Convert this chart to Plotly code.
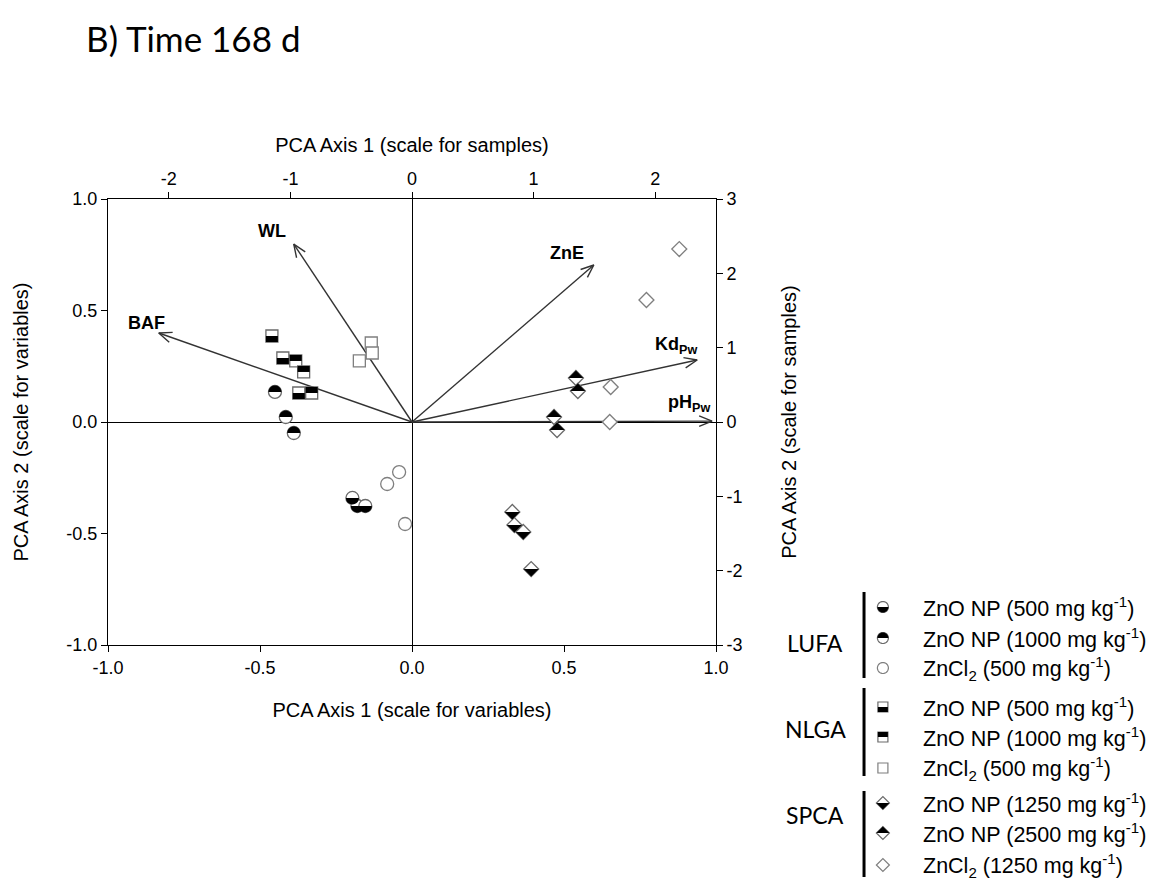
import math
import plotly.graph_objects as go

# ---------------- figure geometry ----------------
W, H = 1155, 879
OFF = 8  # page body margin in the browser
ML, MT = 104 - OFF, 199 - OFF
MR, MB = W - (716 - OFF), H - (645 - OFF)
PW = W - ML - MR
PH = H - MT - MB

# ---------------- data ----------------
# variable loadings (scale for variables)
var_names = ["WL", "ZnE", "BAF", "Kd<sub>Pw</sub>", "pH<sub>Pw</sub>"]
var_x = [-0.389, 0.598, -0.833, 0.938, 0.987]
var_y = [0.798, 0.704, 0.399, 0.278, 0.004]

# sample scores (scale for samples)
lufa_np500_x = [-0.490, -0.449, -0.384]
lufa_np500_y = [-1.022, -1.130, -1.130]
lufa_np1000_x = [-1.127, -1.038, -0.972]
lufa_np1000_y = [0.404, 0.067, -0.148]
lufa_zncl2_x = [-0.106, -0.204, -0.057]
lufa_zncl2_y = [-0.673, -0.834, -1.372]

nlga_np500_x = [-1.152, -1.062, -0.931]
nlga_np500_y = [1.157, 0.861, 0.390]
nlga_np1000_x = [-0.956, -0.891, -0.825]
nlga_np1000_y = [0.821, 0.673, 0.390]
nlga_zncl2_x = [-0.335, -0.327, -0.433]
nlga_zncl2_y = [1.063, 0.928, 0.821]

spca_np1250_x = [0.825, 0.842, 0.915, 0.980]
spca_np1250_y = [-1.211, -1.386, -1.480, -1.978]
spca_np2500_x = [1.348, 1.364, 1.168, 1.193]
spca_np2500_y = [0.592, 0.417, 0.067, -0.108]
spca_zncl2_x = [2.198, 1.928, 1.634, 1.626]
spca_zncl2_y = [2.327, 1.641, 0.471, 0.000]

soils = ["LUFA", "NLGA", "SPCA"]
treatment_labels = [
    ["ZnO NP (500 mg kg<sup>-1</sup>)", "ZnO NP (1000 mg kg<sup>-1</sup>)", "ZnCl<sub>2</sub> (500 mg kg<sup>-1</sup>)"],
    ["ZnO NP (500 mg kg<sup>-1</sup>)", "ZnO NP (1000 mg kg<sup>-1</sup>)", "ZnCl<sub>2</sub> (500 mg kg<sup>-1</sup>)"],
    ["ZnO NP (1250 mg kg<sup>-1</sup>)", "ZnO NP (2500 mg kg<sup>-1</sup>)", "ZnCl<sub>2</sub> (1250 mg kg<sup>-1</sup>)"],
]

# tick labels
xv_ticks = [-1.0, -0.5, 0.0, 0.5, 1.0]
xv_ticktext = ["-1.0", "-0.5", "0.0", "0.5", "1.0"]
yv_ticks = [-1.0, -0.5, 0.0, 0.5, 1.0]
yv_ticktext = ["-1.0", "-0.5", "0.0", "0.5", "1.0"]
xs_ticks = [-2, -1, 0, 1, 2]
xs_ticktext = ["-2", "-1", "0", "1", "2"]
ys_ticks = [-3, -2, -1, 0, 1, 2, 3]
ys_ticktext = ["-3", "-2", "-1", "0", "1", "2", "3"]

# ---------------- styles ----------------
AXFONT = "Arial, Liberation Sans, sans-serif"
ARROW_COLOR = "#333333"
OPEN_COLOR = "#7f7f7f"

series = [
    # (x, y, kind, filled half)
    (lufa_np500_x, lufa_np500_y, "circle", "bottom"),
    (lufa_np1000_x, lufa_np1000_y, "circle", "top"),
    (lufa_zncl2_x, lufa_zncl2_y, "circle", None),
    (nlga_np500_x, nlga_np500_y, "square", "bottom"),
    (nlga_np1000_x, nlga_np1000_y, "square", "top"),
    (nlga_zncl2_x, nlga_zncl2_y, "square", None),
    (spca_np1250_x, spca_np1250_y, "diamond", "bottom"),
    (spca_np2500_x, spca_np2500_y, "diamond", "top"),
    (spca_zncl2_x, spca_zncl2_y, "diamond", None),
]

PLOT_SIZE = {"circle": 13, "square": 12, "diamond": 11.5}
PLOT_R = {"circle": 6.5, "square": 6.0, "diamond": 11.5 / 2 * 1.3}
LEG_R = {"circle": 5.5, "square": 5.0, "diamond": 6.5}


def poly(pts):
    return "M " + " L ".join(f"{x:.2f},{y:.2f}" for x, y in pts) + " Z"


def outline_pts(kind, r):
    if kind == "circle":
        return [(r * math.cos(2 * math.pi * i / 36), r * math.sin(2 * math.pi * i / 36)) for i in range(36)]
    if kind == "square":
        return [(-r, -r), (r, -r), (r, r), (-r, r)]
    return [(-r, 0), (0, -r), (r, 0), (0, r)]


def half_pts(kind, r, half):
    s = -1 if half == "bottom" else 1
    if kind == "circle":
        return [(r * math.cos(math.pi * i / 18), s * r * math.sin(math.pi * i / 18)) for i in range(19)]
    if kind == "square":
        return [(-r, 0), (r, 0), (r, s * r), (-r, s * r)]
    return [(-r, 0), (r, 0), (0, s * r)]


fig = go.Figure()
shapes = []
annotations = []

# ---------------- variable arrows ----------------
sx = PW / 2.0  # px per variable unit
sy = PH / 2.0
HEAD_LEN = 14
HEAD_ANG = math.radians(22)
label_shift = [(-22, 13), (-27, 12), (-12, 10), (-21, 15), (-23, 18)]
for name, vx, vy, (dx, dy) in zip(var_names, var_x, var_y, label_shift):
    px, py = vx * sx, vy * sy
    a = math.atan2(py, px)
    h1 = (px - HEAD_LEN * math.cos(a - HEAD_ANG), py - HEAD_LEN * math.sin(a - HEAD_ANG))
    h2 = (px - HEAD_LEN * math.cos(a + HEAD_ANG), py - HEAD_LEN * math.sin(a + HEAD_ANG))
    fig.add_trace(go.Scatter(
        x=[0, vx, None, h1[0] / sx, vx, h2[0] / sx],
        y=[0, vy, None, h1[1] / sy, vy, h2[1] / sy],
        mode="lines", line=dict(color=ARROW_COLOR, width=1.4),
        xaxis="x", yaxis="y", showlegend=False, hoverinfo="skip",
    ))
    annotations.append(dict(
        x=vx, y=vy, xref="x", yref="y", text=f"<b>{name}</b>", showarrow=False,
        xshift=dx, yshift=dy, font=dict(family=AXFONT, size=18, color="black"),
    ))

# ---------------- sample points ----------------
for xs, ys, kind, half in series:
    fig.add_trace(go.Scatter(
        x=xs, y=ys, xaxis="x2", yaxis="y2", mode="markers", showlegend=False,
        marker=dict(symbol=kind, size=PLOT_SIZE[kind], color="white",
                    line=dict(color=OPEN_COLOR if half is None else "#6a6a6a", width=1.3)),
    ))
    if half is not None:
        for x, y in zip(xs, ys):
            shapes.append(dict(
                type="path", xref="x2", yref="y2", xsizemode="pixel", ysizemode="pixel",
                xanchor=x, yanchor=y, path=poly(half_pts(kind, PLOT_R[kind], half)),
                fillcolor="black", line=dict(width=0), layer="above",
            ))


# ---------------- custom legend (positions given in window pixels) ----------------
def paper_x(px):
    return (px - OFF - ML) / PW


def paper_y(py):
    return (MT + PH - (py - OFF)) / PH


legend_rows = [[607, 638, 668], [707, 737, 768], [803, 833, 865]]
legend_bars = [(592, 678), (688, 776), (791, 877)]
legend_group_y = [643, 729, 815]
kinds = ["circle", "square", "diamond"]
halves = ["bottom", "top", None]
for g, soil in enumerate(soils):
    annotations.append(dict(
        x=paper_x(816), y=paper_y(legend_group_y[g]), xref="paper", yref="paper",
        text=soil, showarrow=False, xanchor="center", yanchor="middle",
        font=dict(family="Lato, Open Sans, sans-serif", size=23, color="black"),
    ))
    y0, y1 = legend_bars[g]
    shapes.append(dict(type="line", xref="paper", yref="paper",
                       x0=paper_x(865), x1=paper_x(865), y0=paper_y(y0), y1=paper_y(y1),
                       line=dict(color="black", width=3)))
    for t in range(3):
        py = legend_rows[g][t]
        kind, half = kinds[g], halves[t]
        shapes.append(dict(
            type="path", xref="paper", yref="paper", xsizemode="pixel", ysizemode="pixel",
            xanchor=paper_x(884), yanchor=paper_y(py), path=poly(outline_pts(kind, LEG_R[kind])),
            fillcolor="white", line=dict(color=OPEN_COLOR if half is None else "#6a6a6a", width=1.2),
        ))
        if half is not None:
            shapes.append(dict(
                type="path", xref="paper", yref="paper", xsizemode="pixel", ysizemode="pixel",
                xanchor=paper_x(884), yanchor=paper_y(py), path=poly(half_pts(kind, LEG_R[kind], half)),
                fillcolor="black", line=dict(width=0),
            ))
        annotations.append(dict(
            x=paper_x(922), y=paper_y(py), xref="paper", yref="paper",
            text=treatment_labels[g][t], showarrow=False, xanchor="left", yanchor="middle",
            font=dict(family=AXFONT, size=21.5, color="black"),
        ))

# ---------------- title ----------------
annotations.append(dict(
    x=paper_x(80), y=paper_y(38), xref="paper", yref="paper", text="B) Time 168 d",
    showarrow=False, xanchor="left", yanchor="middle",
    font=dict(family="Lato, Open Sans, sans-serif", size=35, color="black"),
))

axis_common = dict(
    showline=True, linecolor="black", linewidth=1, mirror=False, showgrid=False,
    ticks="outside", ticklen=6, tickcolor="black", tickwidth=1,
    tickfont=dict(family=AXFONT, size=18, color="black"),
)

fig.update_layout(
    width=W, height=H, autosize=False,
    margin=dict(l=ML, r=MR, t=MT, b=MB),
    paper_bgcolor="white", plot_bgcolor="white",
    showlegend=False,
    xaxis=dict(axis_common, range=[-1, 1], tickvals=xv_ticks, ticktext=xv_ticktext,
               zeroline=True, zerolinecolor="black", zerolinewidth=1, side="bottom",
               title=dict(text="PCA Axis 1 (scale for variables)", standoff=26,
                          font=dict(family=AXFONT, size=20, color="black"))),
    yaxis=dict(axis_common, range=[-1, 1], tickvals=yv_ticks, ticktext=yv_ticktext,
               zeroline=True, zerolinecolor="black", zerolinewidth=1, side="left",
               title=dict(text="PCA Axis 2 (scale for variables)", standoff=32,
                          font=dict(family=AXFONT, size=20, color="black"))),
    xaxis2=dict(axis_common, range=[-2.5, 2.5], tickvals=xs_ticks, ticktext=xs_ticktext,
                overlaying="x", side="top", anchor="y", zeroline=False,
                title=dict(text="PCA Axis 1 (scale for samples)", standoff=10,
                           font=dict(family=AXFONT, size=20, color="black"))),
    yaxis2=dict(axis_common, range=[-3, 3], tickvals=ys_ticks, ticktext=ys_ticktext,
                overlaying="y", side="right", anchor="x", zeroline=False,
                title=dict(text="PCA Axis 2 (scale for samples)", standoff=40,
                           font=dict(family=AXFONT, size=20, color="black"))),
    shapes=shapes,
    annotations=annotations,
)

fig.write_html("out.html")
